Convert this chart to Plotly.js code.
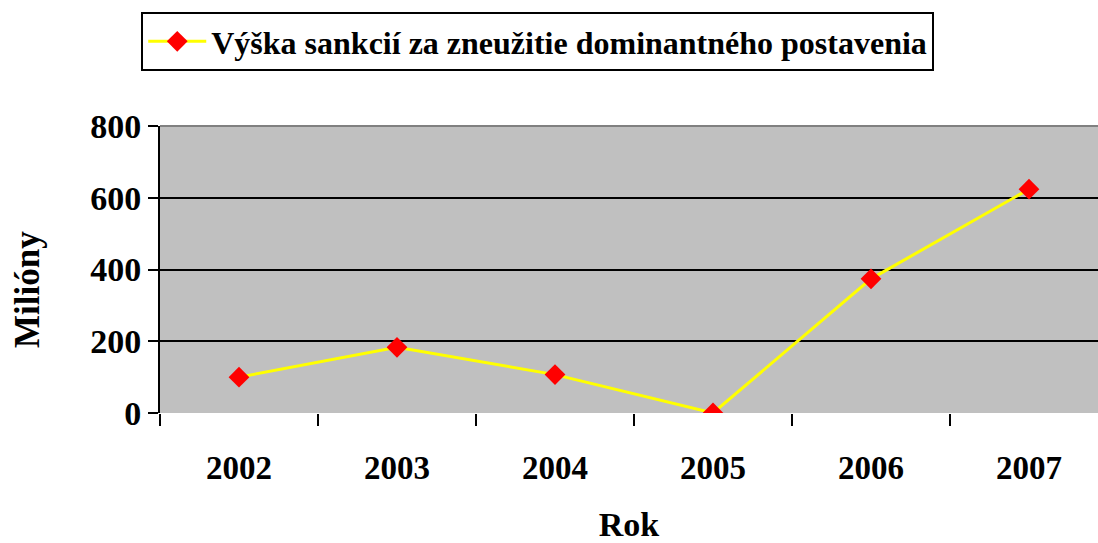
<!DOCTYPE html>
<html>
<head>
<meta charset="utf-8">
<script src="https://cdn.plot.ly/plotly-3.0.1.min.js"></script>
<style>html,body{margin:0;padding:0;background:#fff;}#chart{width:1098px;height:543px;}</style>
</head>
<body>
<div id="chart"></div>
<script>
const years = ['2002', '2003', '2004', '2005', '2006', '2007'];
const values = [100, 183, 107, 0, 374, 624];
const seriesName = 'Výška sankcií za zneužitie dominantného postavenia';
const yTicks = [0, 200, 400, 600, 800];
const xTitle = 'Rok';
const yTitle = 'Milióny';

const FONT = 'Liberation Serif';

const trace = {
  x: years,
  y: values,
  type: 'scatter',
  mode: 'lines+markers',
  name: seriesName,
  line: {color: '#FFFF00', width: 3},
  marker: {symbol: 'diamond', color: '#FF0000', size: 16}
};

const layout = {
  width: 1098,
  height: 543,
  margin: {l: 160, r: 0, t: 126, b: 130},
  paper_bgcolor: '#ffffff',
  plot_bgcolor: '#C0C0C0',
  font: {family: FONT, color: '#000', weight: 'bold'},
  showlegend: true,
  legend: {
    orientation: 'h',
    x: -0.02, xanchor: 'left',
    y: 1.397, yanchor: 'top',
    bgcolor: '#ffffff',
    bordercolor: '#000000',
    borderwidth: 2,
    font: {family: FONT, size: 32, weight: 'bold', color: '#000'},
    itemwidth: 58
  },
  xaxis: {
    type: 'category',
    range: [-0.5, 5.4367],
    showgrid: false,
    zeroline: false,
    showline: false,
    ticks: 'outside',
    tickson: 'boundaries',
    ticklen: 12,
    tickwidth: 2,
    tickcolor: '#000',
    ticklabelstandoff: 32,
    tickfont: {family: FONT, size: 33, weight: 'bold', color: '#000'},
    title: {text: xTitle, font: {family: FONT, size: 34, weight: 'bold', color: '#000'}, standoff: 30}
  },
  yaxis: {
    range: [0, 800],
    tickvals: yTicks,
    ticktext: yTicks.map(String),
    showgrid: true,
    gridcolor: '#000000',
    gridwidth: 2,
    zeroline: false,
    showline: true,
    linecolor: '#000',
    linewidth: 2,
    ticks: 'outside',
    ticklen: 10,
    tickwidth: 2,
    tickcolor: '#000',
    tickfont: {family: FONT, size: 34, weight: 'bold', color: '#000'}
  },
  annotations: [
    {text: yTitle, xref: 'paper', yref: 'paper', x: -0.1407, y: 0.4286,
     xanchor: 'center', yanchor: 'middle', textangle: -90, showarrow: false,
     font: {family: FONT, size: 35, weight: 'bold', color: '#000'}}
  ],
  shapes: [
    {type: 'line', xref: 'paper', yref: 'paper', x0: 0, x1: 1, y0: 1, y1: 1,
     line: {color: '#808080', width: 2}, layer: 'above'}
  ]
};

Plotly.newPlot('chart', [trace], layout, {displayModeBar: false, staticPlot: true});
</script>
</body>
</html>
